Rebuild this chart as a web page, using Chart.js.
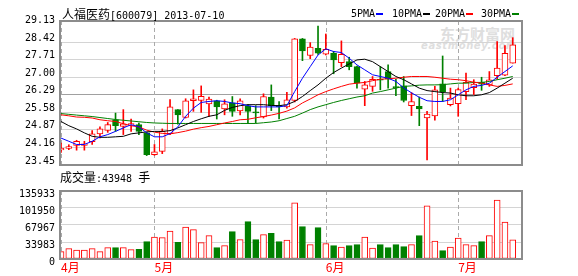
<!DOCTYPE html>
<html lang="zh">
<head>
<meta charset="UTF-8">
<title>人福医药 K线</title>
<script src="https://cdn.jsdelivr.net/npm/chart.js"></script>
<style>
    body { margin: 0; width: 578px; height: 276px; position: relative; overflow: hidden; background: #fff;
           font-family: "DejaVu Sans Mono", monospace; font-size: 10px; color: #000; }
    .cjk { font-family: "Noto Sans CJK SC", sans-serif; font-size: 12px; }
    .txt { position: absolute; line-height: 16px; white-space: nowrap; }
    .dash { display: inline-block; width: 7px; height: 2px; margin-left: 1px; vertical-align: middle; }
    #wm1 { position: absolute; left: 440px; top: 23px; font-family: "Noto Sans CJK SC"; font-weight: bold;
           font-size: 15px; color: #dedede; }
    #wm2 { position: absolute; left: 421px; top: 40px; font-family: "DejaVu Sans"; font-weight: bold;
           font-style: italic; font-size: 10px; color: #dedede; letter-spacing: 0.6px; }
    canvas { position: absolute; left: 0; }
</style>
</head>
<body>
    <div id="wm1">东方财富网</div>
    <div id="wm2">eastmoney.com</div>

    <canvas id="priceChart" width="578" height="176" style="top:0"></canvas>
    <canvas id="volumeChart" width="578" height="98" style="top:180px"></canvas>

    <div class="txt" style="left:62px; top:6px"><span class="cjk">人福医药</span>[600079] 2013-07-10</div>
    <div class="txt" style="left:351px; top:6px">5PMA<span class="dash" style="background:#0000ff"></span></div>
    <div class="txt" style="left:392px; top:6px">10PMA<span class="dash" style="background:#000"></span></div>
    <div class="txt" style="left:435px; top:6px">20PMA<span class="dash" style="background:#ff0000"></span></div>
    <div class="txt" style="left:481px; top:6px">30PMA<span class="dash" style="background:#008000"></span></div>
    <div class="txt" style="left:60px; top:169px"><span class="cjk">成交量</span>:43948 <span class="cjk">手</span></div>

<script>
    // 交易日 (2013)
    const dates = [
        '04-11','04-12','04-15','04-16','04-17','04-18','04-19','04-22','04-23','04-24','04-25','04-26',
        '05-02','05-03','05-06','05-07','05-08','05-09','05-10','05-13','05-14','05-15','05-16','05-17',
        '05-20','05-21','05-22','05-23','05-24','05-27','05-28','05-29','05-30','05-31',
        '06-03','06-04','06-05','06-06','06-07','06-13','06-14','06-17','06-18','06-19','06-20','06-21',
        '06-24','06-25','06-26','06-27','06-28',
        '07-01','07-02','07-03','07-04','07-05','07-08','07-09','07-10'
    ];

    const openP = [24.06,24.12,24.24,24.24,24.39,24.71,24.85,25.28,25.01,25.06,25.08,24.75,23.87,24.00,24.72,25.69,25.37,26.05,26.06,25.92,
                   26.05,25.72,25.96,25.64,25.84,25.60,25.39,26.20,25.85,25.80,26.06,28.55,27.88,28.17,27.93,27.97,27.59,27.63,27.43,26.52,
                   26.63,26.92,27.23,26.62,26.65,25.85,25.82,25.35,25.44,26.73,25.89,25.93,26.42,26.58,26.79,26.69,27.06,27.08,27.57];
    const closeP = [24.12,24.20,24.41,24.31,24.71,24.91,25.08,25.04,25.12,25.13,24.81,23.87,23.98,24.81,25.80,25.48,26.05,26.13,26.23,26.12,
                    25.80,25.92,25.62,26.05,25.62,25.56,26.22,25.85,25.81,26.09,28.55,28.06,28.22,27.97,28.13,27.70,27.93,27.43,26.76,26.69,
                    26.92,26.88,26.92,26.58,26.06,26.02,25.72,25.51,26.49,26.42,26.16,26.50,26.79,26.72,26.72,26.90,27.37,27.97,28.31];
    const highP = [24.34,24.27,24.45,24.41,24.84,24.99,25.17,25.55,25.69,25.31,25.15,24.78,24.28,24.91,26.10,25.69,26.13,26.49,26.65,26.20,
                   26.07,26.09,26.22,26.13,25.89,25.85,26.33,26.69,26.02,26.39,28.57,28.57,28.40,29.07,28.75,28.05,28.47,27.81,27.45,26.83,
                   27.03,27.43,27.50,26.92,27.03,26.38,26.20,25.62,26.63,27.86,26.56,26.56,27.17,26.90,27.00,27.23,28.44,28.28,28.60];
    const lowP = [23.96,24.07,24.05,24.05,24.28,24.55,24.77,24.81,24.68,24.81,24.68,23.83,23.84,23.91,24.68,25.10,25.35,25.62,25.58,25.42,
                  25.31,25.48,25.42,25.48,25.12,25.15,25.35,25.65,25.31,25.75,26.00,27.67,27.75,27.92,27.90,27.14,27.43,27.30,26.56,25.85,
                  26.43,26.49,26.56,26.25,26.00,25.45,25.04,23.66,25.26,26.02,25.84,25.42,26.09,26.30,26.47,26.63,26.92,27.06,27.57];

    const volume = [14600,20600,18000,18000,20600,14600,22600,22600,22600,18600,19300,34600,44000,42600,56000,33200,64000,58600,32600,46600,
                    22600,26600,54600,38600,74600,38600,48600,51200,34600,38000,112500,64600,28600,62600,30600,26600,24000,26600,28600,44000,
                    22000,28600,22600,28600,24600,28600,46600,106500,36000,16600,24000,42000,28600,26600,34600,46600,118000,74000,38500];

    const ma5 = [24.54,24.41,24.28,24.28,24.41,24.59,24.68,24.81,24.95,25.08,25.00,24.75,24.59,24.59,24.72,24.99,25.42,25.75,25.98,26.02,
                 26.05,26.02,25.96,25.93,25.85,25.80,25.80,25.80,25.80,25.85,26.42,26.96,27.43,27.90,28.15,28.04,28.00,27.77,27.50,27.30,
                 27.10,27.03,26.96,26.83,26.57,26.37,26.19,26.05,26.02,26.02,26.09,26.29,26.49,26.63,26.67,26.76,27.00,27.23,27.46];
    const ma10 = [25.21,25.04,24.91,24.75,24.61,24.57,24.57,24.59,24.61,24.71,24.75,24.79,24.81,24.81,24.84,24.95,25.08,25.21,25.32,25.42,
                  25.48,25.66,25.78,25.85,25.89,25.89,25.89,25.86,25.85,25.89,26.02,26.22,26.46,26.69,26.96,27.19,27.37,27.54,27.70,27.73,
                  27.63,27.43,27.23,27.03,26.90,26.73,26.56,26.46,26.42,26.38,26.36,26.29,26.25,26.25,26.29,26.38,26.56,26.76,26.96];
    const ma20 = [25.48,25.44,25.39,25.38,25.35,25.28,25.24,25.21,25.12,25.04,24.99,24.86,24.78,24.73,24.71,24.76,24.82,24.90,24.96,25.01,
                  25.08,25.15,25.21,25.28,25.30,25.36,25.41,25.47,25.54,25.63,25.76,25.96,26.12,26.29,26.42,26.53,26.63,26.72,26.76,26.79,
                  26.86,26.92,26.94,26.96,27.00,27.03,27.03,27.03,27.00,26.96,26.92,26.90,26.86,26.80,26.76,26.69,26.63,26.67,26.73];
    const ma30 = [25.53,25.50,25.47,25.44,25.41,25.37,25.33,25.29,25.26,25.23,25.20,25.17,25.15,25.14,25.13,25.13,25.13,25.13,25.13,25.13,
                  25.13,25.13,25.13,25.13,25.13,25.13,25.16,25.19,25.24,25.33,25.42,25.55,25.69,25.80,25.89,25.98,26.06,26.13,26.20,26.25,
                  26.36,26.42,26.49,26.56,26.63,26.65,26.68,26.69,26.69,26.70,26.73,26.76,26.76,26.79,26.79,26.83,26.90,26.96,27.03];

    const priceTicks = [23.45, 24.16, 24.87, 25.58, 26.29, 27.00, 27.71, 28.42, 29.13];
    const volumeTicks = [0, 33983, 67967, 101950, 135933];

    // 月初位置
    const monthStarts = dates.map((d, i) => i).filter(i => i === 0 || dates[i].slice(0, 2) !== dates[i - 1].slice(0, 2));

    const RED = '#ff0000', GREEN = '#008000';
    const up = openP.map((o, i) => closeP[i] >= o);
    const xy = arr => arr.map((v, i) => ({ x: i, y: v }));

    // 月份虚线 + 图框
    const plotFrame = {
        id: 'plotFrame',
        beforeDatasetsDraw(chart) {
            const ctx = chart.ctx, a = chart.chartArea, xs = chart.scales.x;
            ctx.save();
            ctx.strokeStyle = '#aaaaaa';
            ctx.lineWidth = 1;
            ctx.setLineDash([4, 3]);
            monthStarts.forEach(v => {
                const px = Math.round(xs.getPixelForValue(v)) + 0.5;
                ctx.beginPath();
                ctx.moveTo(px, a.top);
                ctx.lineTo(px, a.bottom);
                ctx.stroke();
            });
            ctx.restore();
        },
        afterDraw(chart) {
            const ctx = chart.ctx, a = chart.chartArea;
            ctx.save();
            ctx.strokeStyle = '#8c8c8c';
            ctx.lineWidth = 2;
            ctx.setLineDash([]);
            ctx.strokeRect(Math.round(a.left), Math.round(a.top), Math.round(a.right - a.left), Math.round(a.bottom - a.top));
            ctx.restore();
        }
    };

    const xScale = (showLabels) => ({
        type: 'linear', min: -0.13, max: 59.19, offset: false, display: showLabels,
        afterBuildTicks: s => { s.ticks = monthStarts.map(v => ({ value: v })); },
        afterFit: s => { s.height = showLabels ? 19 : 0; },
        grid: { color: 'rgba(0,0,0,0)', drawTicks: false, offset: false },
        border: { display: false },
        ticks: {
            autoSkip: false, maxRotation: 0, align: 'start', padding: 1,
            color: RED, font: { family: 'Noto Sans CJK SC', size: 12 },
            callback: v => parseInt(dates[v].slice(0, 2), 10) + '月'
        }
    });

    new Chart(document.getElementById('priceChart'), {
        type: 'bar',
        data: {
            datasets: [
                { type: 'line', data: xy(ma5), borderColor: '#0000ff', borderWidth: 1, pointRadius: 0, order: 0 },
                { type: 'line', data: xy(ma10), borderColor: '#000000', borderWidth: 1, pointRadius: 0, order: 0 },
                { type: 'line', data: xy(ma20), borderColor: RED, borderWidth: 1, pointRadius: 0, order: 0 },
                { type: 'line', data: xy(ma30), borderColor: GREEN, borderWidth: 1, pointRadius: 0, order: 0 },
                {
                    data: openP.map((o, i) => ({ x: i, y: [o, closeP[i]] })),
                    backgroundColor: up.map(u => u ? '#ffffff' : GREEN),
                    borderColor: up.map(u => u ? RED : GREEN),
                    borderWidth: 1, borderSkipped: false, barThickness: 6, grouped: false, order: 1
                },
                {
                    data: lowP.map((l, i) => ({ x: i, y: [l, highP[i]] })),
                    backgroundColor: up.map(u => u ? RED : GREEN),
                    borderWidth: 0, barThickness: 1, grouped: false, order: 2
                }
            ]
        },
        options: {
            responsive: false, animation: false,
            layout: { autoPadding: false, padding: { top: 21, right: 56, bottom: 6, left: 0 } },
            plugins: { legend: { display: false }, tooltip: { enabled: false } },
            scales: {
                x: xScale(false),
                y: {
                    min: 23.45, max: 29.275,
                    afterBuildTicks: s => { s.ticks = priceTicks.map(v => ({ value: v })); },
                    afterFit: s => { s.width = 60; },
                    grid: {
                        drawTicks: false, lineWidth: 1,
                        color: c => {
                            const v = c.tick ? c.tick.value : null;
                            if (v === 29.13) return 'rgba(0,0,0,0)';
                            return v === 26.29 ? '#a0a0a0' : '#d4d4d4';
                        }
                    },
                    border: { display: false },
                    ticks: {
                        padding: 5, labelOffset: -4, color: '#000',
                        font: { family: 'DejaVu Sans Mono', size: 10 },
                        callback: v => v.toFixed(2)
                    }
                }
            }
        },
        plugins: [plotFrame]
    });

    new Chart(document.getElementById('volumeChart'), {
        type: 'bar',
        data: {
            datasets: [{
                data: xy(volume),
                backgroundColor: up.map(u => u ? '#ffffff' : GREEN),
                borderColor: up.map(u => u ? RED : GREEN),
                borderWidth: 1, borderSkipped: false, barThickness: 6, grouped: false
            }]
        },
        options: {
            responsive: false, animation: false,
            layout: { autoPadding: false, padding: { top: 6, right: 56, bottom: 0, left: 0 } },
            plugins: { legend: { display: false }, tooltip: { enabled: false } },
            scales: {
                x: xScale(true),
                y: {
                    min: 0, max: 135933,
                    afterBuildTicks: s => { s.ticks = volumeTicks.map(v => ({ value: v })); },
                    afterFit: s => { s.width = 60; },
                    grid: { drawTicks: false, lineWidth: 1, color: '#d4d4d4' },
                    border: { display: false },
                    ticks: {
                        padding: 5, labelOffset: 3, color: '#000',
                        font: { family: 'DejaVu Sans Mono', size: 10 },
                        callback: v => String(v)
                    }
                }
            }
        },
        plugins: [plotFrame]
    });
</script>
</body>
</html>
